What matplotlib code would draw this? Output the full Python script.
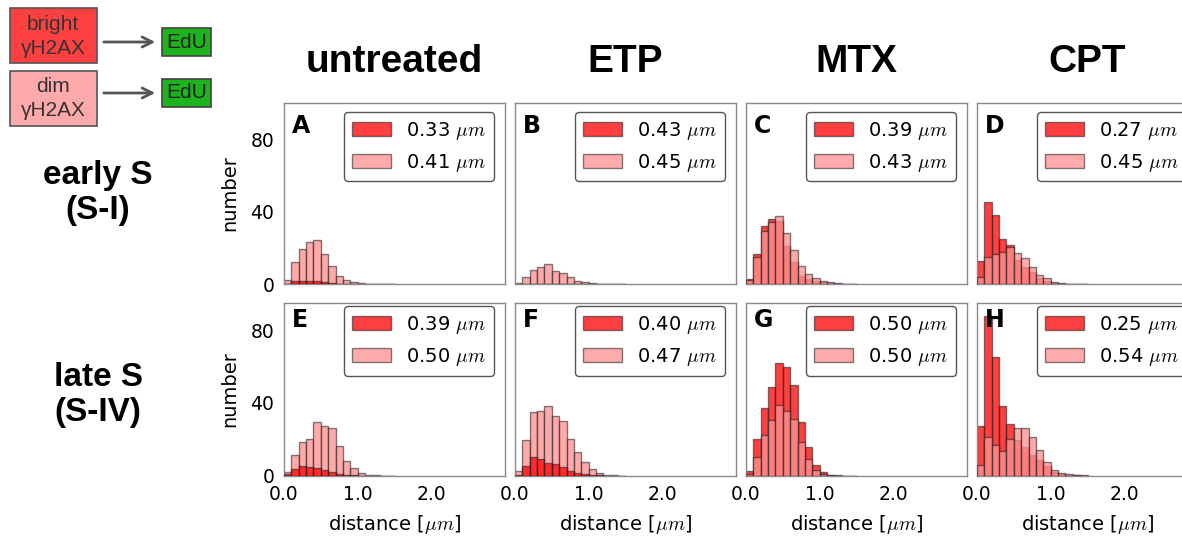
import numpy as np
import matplotlib
matplotlib.use("Agg")
import matplotlib.pyplot as plt
from matplotlib.patches import Rectangle, Patch

plt.rcParams['mathtext.fontset'] = 'cm'
plt.rcParams['font.family'] = 'DejaVu Sans'

# histogram bins: 0.1 um wide, 0.0 .. 1.5 um
bin_edges = np.round(np.arange(0, 1.51, 0.1), 2)

# counts per bin (bright / dim gammaH2AX foci)
bright_A = [0.3, 1.8, 1.8, 1.8, 1.6, 1.2, 0.6, 0.3, 0, 0, 0, 0, 0, 0, 0]
dim_A = [2.2, 12.5, 19.2, 23.3, 24.4, 16.5, 10.3, 4.6, 2.4, 1.3, 0.5, 0.2, 0.2, 0.2, 0]
bright_B = [0.1, 0.2, 0.3, 0.3, 0.3, 0.2, 0.2, 0.1, 0.1, 0, 0, 0, 0, 0, 0]
dim_B = [0.5, 4.0, 7.7, 9.3, 11.2, 7.5, 6.0, 3.8, 1.8, 1.5, 0.5, 0.4, 0.2, 0, 0]
bright_C = [3.1, 16.5, 32.0, 35.9, 35.0, 21.0, 12.5, 4.6, 3.1, 2.0, 1.1, 0.5, 0.3, 0.2, 0]
dim_C = [2.5, 15.2, 29.5, 34.4, 37.7, 28.0, 18.7, 10.3, 5.7, 3.5, 2.0, 1.1, 0.5, 0.2, 0]
bright_D = [13.0, 45.4, 37.9, 24.9, 21.8, 13.4, 9.7, 7.0, 3.3, 2.0, 0.9, 0.4, 0.2, 0, 0]
dim_D = [4.2, 15.2, 16.7, 17.9, 20.3, 17.0, 14.3, 9.3, 5.1, 3.3, 1.5, 0.7, 0.4, 0, 0]
bright_E = [0.9, 3.7, 5.5, 4.6, 4.4, 3.3, 2.2, 1.1, 0.5, 0.2, 0, 0, 0, 0, 0]
dim_E = [2.2, 11.2, 18.3, 20.3, 29.3, 27.5, 26.4, 16.5, 8.2, 4.4, 1.5, 0.4, 0.2, 0, 0]
bright_F = [0.5, 5.3, 10.4, 9.2, 6.8, 6.4, 4.6, 2.7, 1.6, 0.9, 0.4, 0.2, 0, 0, 0]
dim_F = [2.7, 19.4, 35.0, 35.3, 38.5, 32.6, 30.2, 20.0, 13.0, 7.7, 3.8, 1.6, 0.4, 0.2, 0]
bright_G = [2.4, 20.1, 37.2, 48.5, 61.9, 59.5, 50.0, 29.3, 15.6, 6.0, 1.8, 0.5, 0.2, 0, 0]
dim_G = [1.1, 10.3, 22.2, 30.8, 39.0, 35.7, 31.3, 18.5, 9.2, 3.3, 1.1, 0.4, 0, 0, 0]
bright_H = [27.3, 87.7, 65.0, 38.3, 28.2, 19.6, 16.0, 11.4, 8.6, 5.5, 2.2, 1.1, 0.4, 0.2, 0]
dim_H = [5.9, 21.1, 16.8, 13.7, 20.0, 26.4, 26.4, 21.4, 14.1, 7.7, 3.1, 1.6, 0.7, 0.4, 0.2]

# mean distances shown in the legends
bright_means = ["0.33", "0.43", "0.39", "0.27", "0.39", "0.40", "0.50", "0.25"]
dim_means = ["0.41", "0.45", "0.43", "0.45", "0.50", "0.47", "0.50", "0.54"]

panel_letters = ["A", "B", "C", "D", "E", "F", "G", "H"]
col_titles = ["untreated", "ETP", "MTX", "CPT"]
row_titles = ["early S\n(S-I)", "late S\n(S-IV)"]
y_ticks = [0, 40, 80]
x_ticks = [0.0, 1.0, 2.0]

bright_all = [bright_A, bright_B, bright_C, bright_D, bright_E, bright_F, bright_G, bright_H]
dim_all = [dim_A, dim_B, dim_C, dim_D, dim_E, dim_F, dim_G, dim_H]

# styles
BRIGHT = (1.0, 0.0, 0.0, 0.75)
DIM = (1.0, 0.57, 0.57, 0.77)
EDGE = (0.1, 0.1, 0.1, 0.55)
SPINE = '#8a8a8a'

W, H = 1182, 537
fig = plt.figure(figsize=(W / 100, H / 100), dpi=100)


def px_axes(x0, y0, x1, y1):
    return fig.add_axes([x0 / W, 1 - y1 / H, (x1 - x0) / W, (y1 - y0) / H])


# ---- scheme in the top-left corner ----
deco = fig.add_axes([0, 0, 1, 1])
deco.set_xlim(0, W)
deco.set_ylim(H, 0)
deco.axis('off')
for (y0, y1, ym, fc, word) in [(8, 63, 42, '#ff4040', 'bright'), (71, 126, 93, '#ffaaaa', 'dim')]:
    deco.add_patch(Rectangle((10, y0), 87, y1 - y0, facecolor=fc, edgecolor='#555555', lw=1.2))
    deco.text(53, y0 + 16, word, ha='center', va='center', fontsize=15,
              color='#333333', family='Liberation Sans')
    deco.text(53, y0 + 40, 'γH2AX', ha='center', va='center', fontsize=15,
              color='#333333', family='Liberation Sans')
    deco.annotate('', xy=(158, ym), xytext=(101, ym),
                  arrowprops=dict(arrowstyle='->', color='#555555', lw=2, mutation_scale=18))
    deco.add_patch(Rectangle((162, ym - 14), 49, 28, facecolor='#1db31d', edgecolor='#444444', lw=1.2))
    deco.text(186.5, ym, 'EdU', ha='center', va='center', fontsize=15,
              color='#222222', family='Liberation Sans')

# ---- titles ----
col_left = [284, 515, 746, 977]
col_w = 221
row_top = [102.7, 303.3]
row_bot = [284.3, 475.7]
row_ymax = [100, 94.7]

for c, t in enumerate(col_titles):
    fig.text((col_left[c] + col_w / 2) / W, 1 - 62 / H, t, ha='center', va='center',
             fontsize=28, fontweight='bold', family='Liberation Sans')
for r, t in enumerate(row_titles):
    yc = [193, 395][r]
    fig.text(98 / W, 1 - yc / H, t, ha='center', va='center', fontsize=24,
             fontweight='bold', family='Liberation Sans', linespacing=1.2)

# ---- histograms ----
for i in range(8):
    r, c = divmod(i, 4)
    ax = px_axes(col_left[c], row_top[r], col_left[c] + col_w, row_bot[r])
    b = ax.bar(bin_edges[:-1], bright_all[i], width=0.1, align='edge',
               color=BRIGHT, edgecolor=EDGE, lw=1)
    d = ax.bar(bin_edges[:-1], dim_all[i], width=0.1, align='edge',
               color=DIM, edgecolor=EDGE, lw=1)
    if c < 2:
        # untreated / ETP: bright drawn over dim
        for p in b:
            p.set_zorder(3)
        for p in d:
            p.set_zorder(2)
    else:
        for p in b:
            p.set_zorder(2)
        for p in d:
            p.set_zorder(3)
    ax.set_xlim(0, 3.0)
    ax.set_ylim(0, row_ymax[r])
    ax.set_yticks(y_ticks)
    ax.set_xticks(x_ticks)
    ax.tick_params(length=0, labelsize=13.5)
    ax.tick_params(axis='y', pad=7)
    ax.tick_params(axis='x', pad=7)
    if c == 0:
        ax.set_ylabel('number', fontsize=14, labelpad=8)
    else:
        ax.set_yticklabels([])
    if r == 1:
        ax.set_xticklabels(['0.0', '1.0', '2.0'])
        ax.set_xlabel(r'distance [$\mu m$]', fontsize=14, labelpad=6)
    else:
        ax.set_xticklabels([])
    for s in ax.spines.values():
        s.set_color(SPINE)
        s.set_linewidth(1)
    h_ax = row_bot[r] - row_top[r]
    ax.text(8 / col_w, 1 - (11 if r == 0 else 5) / h_ax, panel_letters[i], transform=ax.transAxes,
            ha='left', va='top', fontsize=17, fontweight='bold')
    handles = [Patch(facecolor=(1, 0.25, 0.25), edgecolor=EDGE, lw=1),
               Patch(facecolor=(1, 0.67, 0.67), edgecolor=EDGE, lw=1)]
    labels = [bright_means[i] + r' $\mu m$', dim_means[i] + r' $\mu m$']
    top_gap = 9.3 if r == 0 else 3
    leg = ax.legend(handles, labels, loc='upper right', fontsize=14, borderaxespad=0,
                    bbox_to_anchor=(1 - 11 / col_w, 1 - top_gap / h_ax), fancybox=True,
                    framealpha=1, edgecolor='#555555')
    leg.set_zorder(5)

fig.savefig('out.png', dpi=100)
